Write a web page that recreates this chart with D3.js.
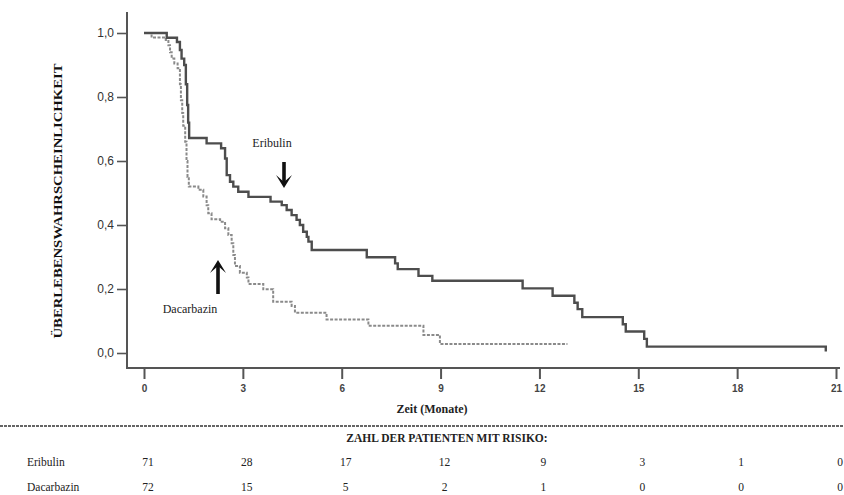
<!DOCTYPE html>
<html>
<head>
<meta charset="utf-8">
<script src="https://cdn.jsdelivr.net/npm/d3@7"></script>
<style>
  body { margin: 0; background: #fff; }
  svg { display: block; }
</style>
</head>
<body>
<div id="chart"></div>
<script>
'use strict'

// Kaplan-Meier steps (months, survival)
const eribulinTime = [0, 0.69, 1.0, 1.09, 1.14, 1.22, 1.27, 1.31, 1.34, 1.37, 1.9, 2.34, 2.46, 2.51, 2.61, 2.71, 2.86, 3.17, 3.84, 4.18, 4.33, 4.48, 4.63, 4.73, 4.83, 4.94, 4.99, 5.09, 6.76, 7.62, 7.7, 8.33, 8.75, 11.49, 12.4, 13.06, 13.16, 13.3, 14.53, 14.62, 15.18, 15.26, 20.69]
const eribulinSurv = [1.0, 0.985, 0.972, 0.947, 0.92, 0.9, 0.84, 0.775, 0.72, 0.672, 0.655, 0.64, 0.608, 0.556, 0.535, 0.52, 0.504, 0.488, 0.473, 0.462, 0.447, 0.431, 0.416, 0.4, 0.379, 0.363, 0.348, 0.322, 0.299, 0.28, 0.262, 0.241, 0.226, 0.202, 0.179, 0.157, 0.137, 0.112, 0.09, 0.067, 0.044, 0.02, 0.005]

const dacarbazinTime = [0, 0.23, 0.66, 0.74, 0.79, 0.84, 0.92, 1.02, 1.09, 1.12, 1.16, 1.19, 1.25, 1.29, 1.32, 1.36, 1.65, 1.8, 1.9, 1.95, 2.05, 2.31, 2.46, 2.56, 2.66, 2.71, 2.76, 2.91, 3.12, 3.17, 3.62, 3.92, 4.48, 4.58, 5.54, 6.81, 8.48, 8.98, 12.85]
const dacarbazinSurv = [1.0, 0.986, 0.978, 0.962, 0.94, 0.92, 0.905, 0.89, 0.84, 0.79, 0.75, 0.71, 0.66, 0.6, 0.55, 0.52, 0.51, 0.489, 0.462, 0.437, 0.418, 0.41, 0.39, 0.369, 0.343, 0.306, 0.272, 0.251, 0.236, 0.216, 0.199, 0.16, 0.147, 0.126, 0.105, 0.085, 0.056, 0.028, 0.028]

const xTicks = [0, 3, 6, 9, 12, 15, 18, 21]
const yTicks = [0, 0.2, 0.4, 0.6, 0.8, 1.0]

const riskGroups = ['Eribulin', 'Dacarbazin']
const eribulinRisk = [71, 28, 17, 12, 9, 3, 1, 0]
const dacarbazinRisk = [72, 15, 5, 2, 1, 0, 0, 0]

////////////////////////////////////
//////////// svg setup /////////////
////////////////////////////////////

const svgWidth = 844, svgHeight = 495

const svg = d3.select('#chart')
    .append('svg')
    .attr('width', svgWidth)
    .attr('height', svgHeight)

const x = d3.scaleLinear().domain([0, 21]).range([144, 836])
const y = d3.scaleLinear().domain([0, 1]).range([353, 33])

const axisColor = '#555'
const axisY0 = 368, axisX0 = 127

////////////////////////////////////
//////////// axes //////////////////
////////////////////////////////////

// axis lines
svg.append('line')
    .attr('x1', axisX0).attr('x2', axisX0)
    .attr('y1', 12).attr('y2', axisY0 + 1)
    .attr('stroke', axisColor).attr('stroke-width', 2)

svg.append('line')
    .attr('x1', axisX0 - 1).attr('x2', 840)
    .attr('y1', axisY0).attr('y2', axisY0)
    .attr('stroke', axisColor).attr('stroke-width', 2)

const yAxis = svg.append('g')
    .attr('transform', `translate(${axisX0},0)`)
    .call(d3.axisLeft(y).tickValues(yTicks).tickSize(10).tickPadding(3)
        .tickFormat(d => d3.format('.1f')(d).replace('.', ',')))

yAxis.select('.domain').remove()
yAxis.selectAll('.tick line').attr('stroke', axisColor).attr('stroke-width', 1.6)
yAxis.selectAll('.tick text')
    .style('font-family', 'Liberation Sans, Arial, sans-serif')
    .style('font-size', '12px')
    .style('fill', '#333')

const xAxis = svg.append('g')
    .attr('transform', `translate(0,${axisY0})`)
    .call(d3.axisBottom(x).tickValues(xTicks).tickSize(11).tickPadding(6))

xAxis.select('.domain').remove()
xAxis.selectAll('.tick line').attr('stroke', axisColor).attr('stroke-width', 2)
xAxis.selectAll('.tick text')
    .style('font-family', 'Liberation Sans, Arial, sans-serif')
    .style('font-size', '10px')
    .style('font-weight', '700')
    .style('fill', '#444')

svg.append('text')
    .attr('x', 432)
    .attr('y', 413)
    .attr('text-anchor', 'middle')
    .text('Zeit (Monate)')
    .style('font-family', 'Liberation Serif, Times New Roman, serif')
    .style('font-size', '12px')
    .style('font-weight', '700')
    .style('fill', '#222')

svg.append('text')
    .attr('transform', 'translate(62,201) rotate(-90)')
    .attr('text-anchor', 'middle')
    .attr('textLength', 275)
    .attr('lengthAdjust', 'spacingAndGlyphs')
    .text('ÜBERLEBENSWAHRSCHEINLICHKEIT')
    .style('font-family', 'Liberation Serif, Times New Roman, serif')
    .style('font-size', '13px')
    .style('font-weight', '700')
    .style('fill', '#111')

////////////////////////////////////
//////////// curves ////////////////
////////////////////////////////////

const line = d3.line()
    .x(d => x(d[0]))
    .y(d => y(d[1]))
    .curve(d3.curveStepAfter)

svg.append('path')
    .datum(dacarbazinTime.map((t, i) => [t, dacarbazinSurv[i]]))
    .attr('d', line)
    .attr('fill', 'none')
    .attr('stroke', '#8a8a8a')
    .attr('stroke-width', 2)
    .attr('stroke-dasharray', '3,1.5')

svg.append('path')
    .datum(eribulinTime.map((t, i) => [t, eribulinSurv[i]]))
    .attr('d', line)
    .attr('fill', 'none')
    .attr('stroke', '#4d4d4d')
    .attr('stroke-width', 2.4)

////////////////////////////////////
//////////// labels ////////////////
////////////////////////////////////

function arrow(cx, yTail, yTip) {
    const dir = yTip > yTail ? 1 : -1
    const headLen = 13, headHalf = 8
    svg.append('line')
        .attr('x1', cx).attr('x2', cx)
        .attr('y1', yTail).attr('y2', yTip - dir * 5)
        .attr('stroke', '#111').attr('stroke-width', 3.6)
    svg.append('path')
        .attr('d', `M${cx - headHalf},${yTip - dir * headLen} L${cx},${yTip} L${cx + headHalf},${yTip - dir * headLen} L${cx},${yTip - dir * 6} Z`)
        .attr('fill', '#111')
}

svg.append('text')
    .attr('x', 272).attr('y', 147)
    .attr('text-anchor', 'middle')
    .text('Eribulin')
    .style('font-family', 'Liberation Serif, Times New Roman, serif')
    .style('font-size', '12px')
    .style('fill', '#222')

arrow(284, 162, 188)

svg.append('text')
    .attr('x', 190).attr('y', 313)
    .attr('text-anchor', 'middle')
    .text('Dacarbazin')
    .style('font-family', 'Liberation Serif, Times New Roman, serif')
    .style('font-size', '12px')
    .style('fill', '#222')

arrow(218, 294, 260)

////////////////////////////////////
//////////// risk table ////////////
////////////////////////////////////

svg.append('line')
    .attr('x1', 0).attr('x2', svgWidth)
    .attr('y1', 426).attr('y2', 426)
    .attr('stroke', '#333')
    .attr('stroke-width', 1.5)
    .attr('stroke-dasharray', '3,1')

svg.append('text')
    .attr('x', 447).attr('y', 442)
    .attr('text-anchor', 'middle')
    .text('ZAHL DER PATIENTEN MIT RISIKO:')
    .style('font-family', 'Liberation Serif, Times New Roman, serif')
    .style('font-size', '11.5px')
    .style('font-weight', '700')
    .style('fill', '#222')

const rowY = [466, 491]
const riskRows = [eribulinRisk, dacarbazinRisk]

riskGroups.forEach((g, j) => {
    svg.append('text')
        .attr('x', 27).attr('y', rowY[j])
        .text(g)
        .style('font-family', 'Liberation Serif, Times New Roman, serif')
        .style('font-size', '11.5px')
        .style('fill', '#222')

    svg.selectAll(null)
        .data(riskRows[j])
        .enter()
        .append('text')
        .attr('x', (d, i) => x(xTicks[i]) + 4)
        .attr('y', rowY[j])
        .attr('text-anchor', 'middle')
        .text(d => d)
        .style('font-family', 'Liberation Serif, Times New Roman, serif')
        .style('font-size', '11.5px')
        .style('fill', '#222')
})
</script>
</body>
</html>
